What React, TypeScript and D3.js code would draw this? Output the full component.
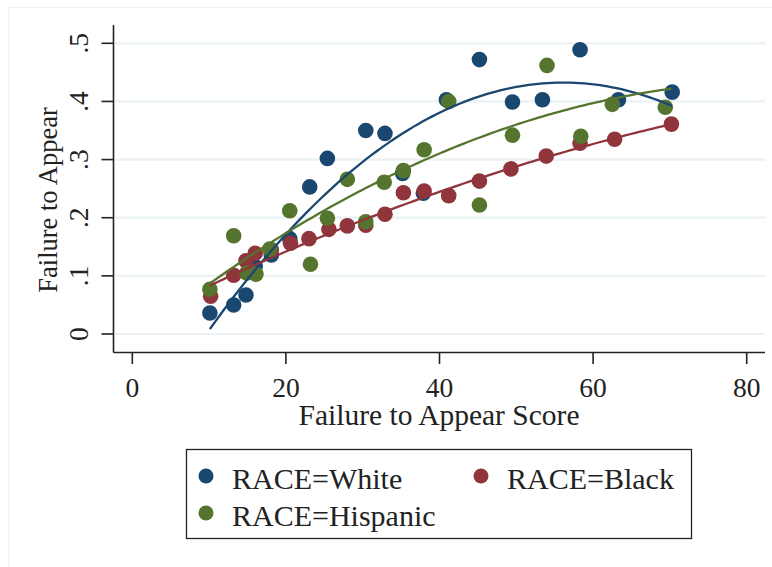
import React from "react";
import * as d3 from "d3";

const xTicks = [0, 20, 40, 60, 80];
const yTicks = [0, 0.1, 0.2, 0.3, 0.4, 0.5];
const yTickLabels = ["0", ".1", ".2", ".3", ".4", ".5"];

const whiteX = [10.1, 13.2, 14.8, 16.0, 18.1, 20.5, 23.1, 25.4, 30.4, 32.9, 35.2, 37.9, 40.9, 45.2, 49.5, 53.4, 58.3, 63.3, 70.3];
const whiteY = [0.036, 0.05, 0.067, 0.116, 0.136, 0.164, 0.253, 0.302, 0.35, 0.345, 0.276, 0.242, 0.403, 0.472, 0.399, 0.403, 0.489, 0.403, 0.416];

const blackX = [10.2, 13.2, 14.8, 16.0, 18.1, 20.6, 23.0, 25.6, 28.0, 30.4, 32.9, 35.3, 38.0, 41.2, 45.2, 49.3, 53.9, 58.3, 62.8, 70.2];
const blackY = [0.065, 0.101, 0.126, 0.139, 0.145, 0.156, 0.164, 0.18, 0.186, 0.187, 0.206, 0.243, 0.246, 0.238, 0.263, 0.284, 0.306, 0.328, 0.335, 0.361];

const hispX = [10.1, 13.2, 14.9, 16.1, 17.9, 20.5, 23.2, 25.4, 28.0, 30.4, 32.8, 35.3, 38.0, 41.2, 45.2, 49.5, 54.0, 58.4, 62.5, 69.4];
const hispY = [0.077, 0.169, 0.105, 0.103, 0.146, 0.212, 0.12, 0.199, 0.266, 0.193, 0.261, 0.281, 0.317, 0.4, 0.222, 0.342, 0.462, 0.34, 0.395, 0.39];

// quadratic fit lines (fitted on underlying data): y = a + b x + c x^2
const whiteFit = [-0.1979, 0.022474, -0.0002003];
const blackFit = [0.01869, 0.006663, -0.00002545];
const hispFit = [-0.01389, 0.010624, -0.00006288];
const whiteFitRange = [10.1, 70.3];
const blackFitRange = [10.1, 70.2];
const hispFitRange = [10.1, 70.2];

const seriesNames = ["RACE=White", "RACE=Black", "RACE=Hispanic"];
const colors = ["#1a476f", "#90353b", "#55752f"];

function fitPoints(coef: number[], range: number[]): [number, number][] {
  const [lo, hi] = range;
  return d3.range(0, 101).map((k) => {
    const x = lo + ((hi - lo) * k) / 100;
    return [x, coef[0] + coef[1] * x + coef[2] * x * x];
  });
}

export default function App() {
  const W = 772, H = 567;
  const x = d3.scaleLinear().domain([0, 80]).range([132.3, 746.7]);
  const y = d3.scaleLinear().domain([0, 0.5]).range([334, 43.3]);
  const font = "'Liberation Serif', 'DejaVu Serif', serif";

  const series = [
    { xs: whiteX, ys: whiteY, fit: whiteFit, range: whiteFitRange },
    { xs: blackX, ys: blackY, fit: blackFit, range: blackFitRange },
    { xs: hispX, ys: hispY, fit: hispFit, range: hispFitRange },
  ];
  const line = d3.line<[number, number]>().x((d) => x(d[0])).y((d) => y(d[1])).curve(d3.curveLinear);

  const axisX = 113.5, axisTop = 25, axisBottom = 352.5, plotRight = 765;

  return (
    <svg width={W} height={H} style={{ position: "absolute", left: 0, top: 0, background: "#fff" }} fontFamily={font}>
      <rect x={0} y={0} width={W} height={H} fill="#fff" />
      {/* outer graph frame */}
      <line x1={8.5} y1={7.5} x2={W} y2={7.5} stroke="#eef3f4" strokeWidth={1.5} />
      <line x1={8.5} y1={7.5} x2={8.5} y2={H} stroke="#eef3f4" strokeWidth={1.5} />

      {/* gridlines */}
      {yTicks.map((t) => (
        <line key={"g" + t} x1={axisX + 1.5} x2={plotRight} y1={y(t)} y2={y(t)} stroke="#eaf2f3" strokeWidth={2.2} />
      ))}

      {/* axes */}
      <line x1={axisX} y1={axisTop} x2={axisX} y2={axisBottom} stroke="#222" strokeWidth={1.6} />
      <line x1={axisX} y1={axisBottom} x2={plotRight} y2={axisBottom} stroke="#222" strokeWidth={1.6} />

      {yTicks.map((t, i) => (
        <g key={"yt" + t}>
          <line x1={101.5} x2={axisX} y1={y(t)} y2={y(t)} stroke="#222" strokeWidth={1.6} />
          <text
            x={88}
            y={y(t)}
            transform={`rotate(-90, 88, ${y(t)})`}
            textAnchor="middle"
            fontSize={27.5}
            fill="#222"
          >
            {yTickLabels[i]}
          </text>
        </g>
      ))}
      {xTicks.map((t) => (
        <g key={"xt" + t}>
          <line x1={x(t)} x2={x(t)} y1={axisBottom} y2={364} stroke="#222" strokeWidth={1.6} />
          <text x={x(t)} y={397} textAnchor="middle" fontSize={27.5} fill="#222">
            {t}
          </text>
        </g>
      ))}

      {/* axis titles */}
      <text x={439} y={425} textAnchor="middle" fontSize={29.5} fill="#222">
        Failure to Appear Score
      </text>
      <text x={57} y={200} transform="rotate(-90, 57, 200)" textAnchor="middle" fontSize={26.5} fill="#222">
        Failure to Appear
      </text>

      {/* points */}
      {series.map((s, si) => (
        <g key={"s" + si}>
          {s.xs.map((xv, i) => (
            <circle key={i} cx={x(xv)} cy={y(s.ys[i])} r={7.8} fill={colors[si]} />
          ))}
        </g>
      ))}

      {/* fit lines */}
      {series.map((s, si) => (
        <path key={"l" + si} d={line(fitPoints(s.fit, s.range)) || ""} fill="none" stroke={colors[si]} strokeWidth={2.3} />
      ))}

      {/* legend */}
      <rect x={186.5} y={449.5} width={505} height={89} fill="#fff" stroke="#222" strokeWidth={1.3} />
      {[
        { cx: 206, cy: 476, tx: 232, ty: 489 },
        { cx: 481, cy: 476, tx: 507, ty: 489 },
        { cx: 206, cy: 513, tx: 232, ty: 526 },
      ].map((p, i) => (
        <g key={"lg" + i}>
          <circle cx={p.cx} cy={p.cy} r={7.5} fill={colors[i]} />
          <text x={p.tx} y={p.ty} fontSize={30} fill="#222">
            {seriesNames[i]}
          </text>
        </g>
      ))}
    </svg>
  );
}
